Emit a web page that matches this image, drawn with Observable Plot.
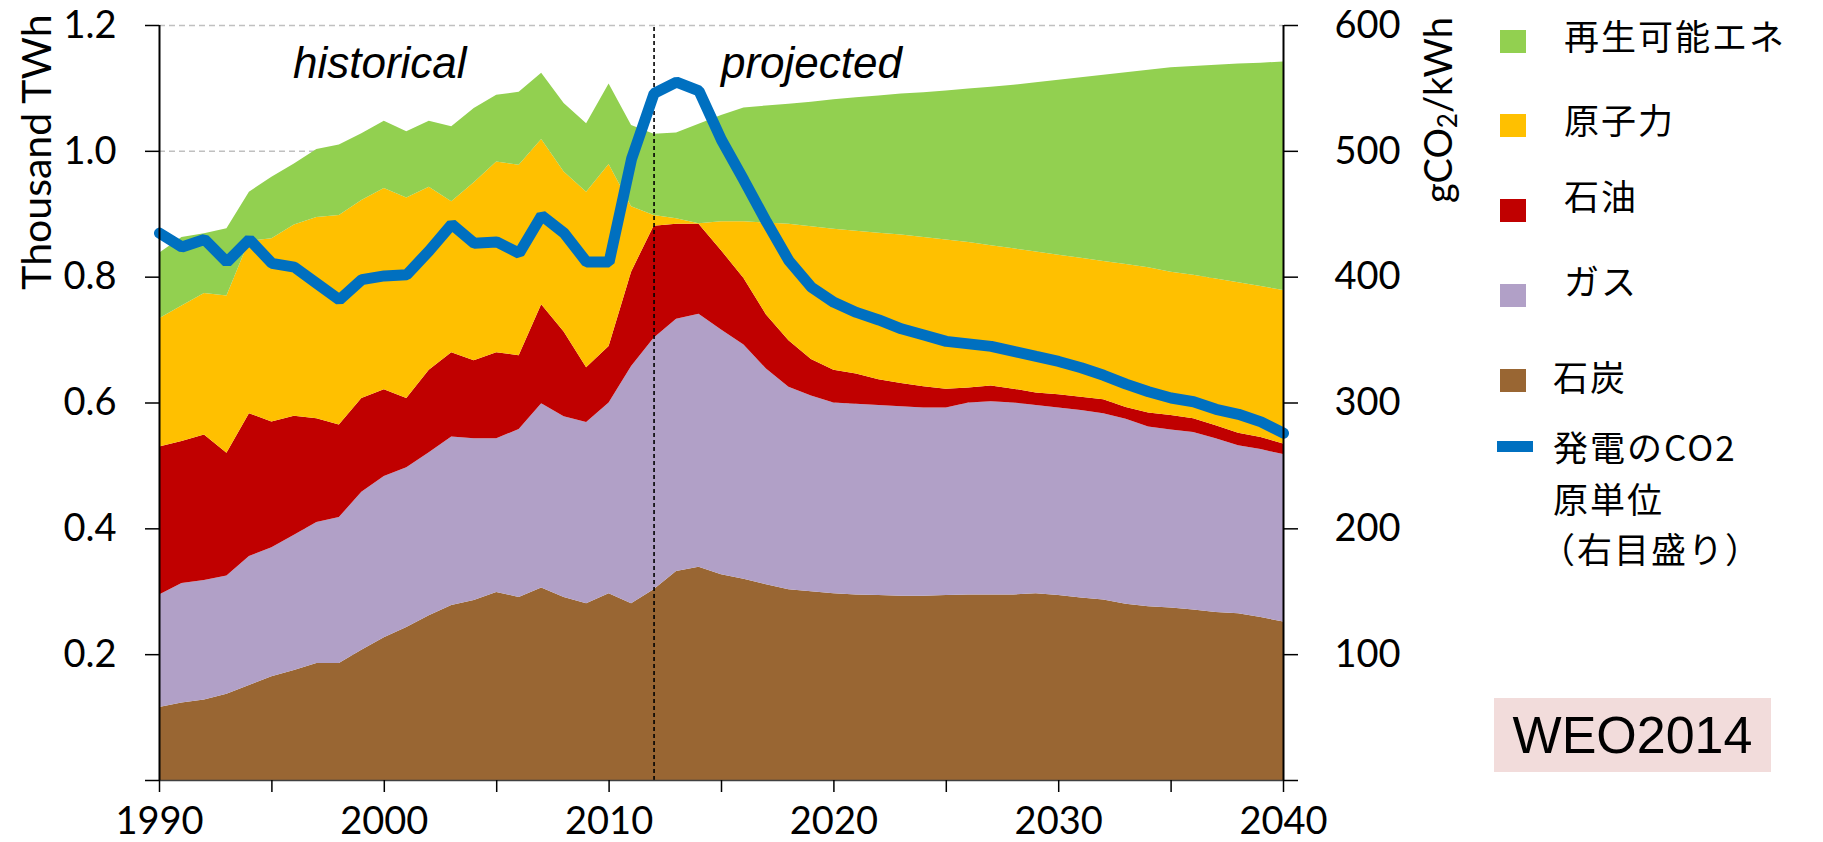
<!DOCTYPE html>
<html><head><meta charset="utf-8">
<script src="https://cdn.jsdelivr.net/npm/d3@7"></script>
<script src="https://cdn.jsdelivr.net/npm/@observablehq/plot@0.6"></script>
<style>
body{margin:0;background:#fff;}
#wrap{position:relative;width:1823px;height:842px;overflow:hidden;}
.lt{position:absolute;font-family:"Noto Sans CJK JP";font-size:35px;line-height:36px;letter-spacing:2px;color:#000;white-space:nowrap;}
.sw{position:absolute;width:26px;height:23px;}
#weo{position:absolute;left:1494px;top:698px;width:277px;height:74px;background:#f2dcdb;font-family:"Liberation Sans";font-size:52px;line-height:74px;text-align:center;color:#000;}
</style></head><body><div id="wrap"></div>
<script>
const years = d3.range(1990, 2041);
const seriesNames = ["石炭", "ガス", "石油", "原子力", "再生可能エネ"];
const seriesColors = ["#996633", "#b1a0c7", "#c00000", "#ffc000", "#92d050"];
const coal = [.116,.123,.128,.137,.151,.165,.175,.186,.186,.207,
 .227,.243,.262,.278,.286,.299,.291,.306,.291,.281,
 .297,.281,.303,.332,.339,.327,.320,.311,.303,.300,
 .297,.295,.294,.293,.293,.294,.295,.295,.295,.297,
 .294,.290,.287,.280,.276,.274,.271,.267,.265,.259,.252];
const gas = [.179,.190,.190,.188,.205,.205,.215,.224,.232,.251,
 .256,.254,.259,.268,.257,.244,.267,.293,.287,.288,
 .303,.377,.400,.401,.402,.389,.372,.343,.322,.311,
 .303,.303,.302,.301,.299,.298,.305,.307,.305,.299,
 .298,.298,.296,.294,.286,.283,.282,.276,.267,.267,.266];
const oil = [.235,.226,.231,.195,.227,.200,.189,.165,.147,.149,
 .138,.110,.131,.134,.124,.137,.117,.157,.135,.087,
 .090,.150,.178,.151,.143,.126,.106,.086,.074,.058,
 .052,.048,.041,.037,.034,.030,.024,.025,.022,.020,
 .021,.021,.022,.019,.022,.023,.022,.021,.020,.019,.017];
const nuclear = [.204,.215,.225,.250,.274,.291,.304,.320,.333,.315,
 .320,.319,.291,.240,.283,.303,.303,.263,.254,.279,
 .289,.104,.017,.009,.001,.046,.090,.146,.185,.211,
 .224,.227,.233,.236,.237,.237,.231,.223,.223,.224,
 .222,.221,.220,.227,.231,.228,.228,.233,.239,.240,.244];
const renewables = [.104,.109,.095,.107,.078,.098,.097,.108,.112,.106,
 .107,.105,.105,.119,.118,.106,.116,.105,.109,.109,
 .128,.129,.129,.136,.158,.169,.181,.186,.191,.198,
 .206,.212,.218,.224,.230,.237,.244,.252,.260,.269,
 .278,.287,.296,.305,.314,.325,.332,.340,.348,.355,.363];
const co2 = [435,424,430,412,430,411,408,395,382,398,
 401,402,421,442,427,428,419,449,435,412,
 412,494,546,555,548,509,477,444,413,392,
 380,372,366,359,354,349,347,345,341,337,
 333,328,322,315,309,304,301,295,291,285,276];
const leftTicks = [0, 0.2, 0.4, 0.6, 0.8, 1.0, 1.2];
const rightTicks = [0, 100, 200, 300, 400, 500, 600];
const xTicks = [1990,1995,2000,2005,2010,2015,2020,2025,2030,2035,2040];
const annotations = [{year: 1999.8, y: 1.139, label: "historical"}, {year: 2019.0, y: 1.139, label: "projected"}];
const divideYear = 2012;
const rightMax = 600, leftMax = 1.2;

const layers = [coal, gas, oil, nuclear, renewables];
const rows = [];
years.forEach((yr, i) => layers.forEach((arr, k) => rows.push({year: yr, type: seriesNames[k], value: arr[i]})));
const ratio = rightMax / leftMax;
const co2rows = years.map((yr, i) => ({year: yr, v: co2[i] / ratio}));

const plot = Plot.plot({
  width: 1823, height: 842,
  marginLeft: 159, marginRight: 540, marginTop: 25, marginBottom: 62,
  x: {domain: [1990, 2040]},
  y: {domain: [0, leftMax]},
  color: {domain: seriesNames, range: seriesColors},
  style: {fontFamily: "Lato", color: "#000", background: "transparent", overflow: "visible"},
  marks: [
    Plot.ruleY(leftTicks.filter(d => d > 0), {stroke: "#c0c0c0", strokeDasharray: "6,4", strokeWidth: 1.5}),
    Plot.areaY(rows, {x: "year", y: "value", z: "type", fill: "type"}),
    Plot.ruleX([divideYear], {y1: 0, y2: leftMax, stroke: "#000", strokeWidth: 1.6, strokeDasharray: "4,3"}),
    Plot.line(co2rows, {x: "year", y: "v", stroke: "#0070c0", strokeWidth: 11, strokeLinejoin: "miter"}),
    Plot.ruleY([0], {stroke: "#404040", strokeWidth: 1.5}),
    Plot.ruleX([1990, 2040], {y1: 0, y2: leftMax, stroke: "#000", strokeWidth: 2}),
    Plot.axisY({ticks: leftTicks, tickSize: 14, tickPadding: 29, strokeWidth: 1.5, fontSize: 38,
      tickFormat: d => d === 0 ? "" : d.toFixed(1), label: null}),
    Plot.axisY({anchor: "right", ticks: rightTicks.map(d => d / ratio), tickSize: 14, tickPadding: 37, strokeWidth: 1.5, fontSize: 38,
      tickFormat: d => { const v = Math.round(d * ratio); return v === 0 ? "" : String(v); }, label: null}),
    Plot.axisX({ticks: xTicks, tickSize: 12, tickPadding: 15, strokeWidth: 1.5, fontSize: 38,
      tickFormat: d => d % 10 === 0 ? String(d) : "", label: null}),
    Plot.text(annotations, {x: "year", y: "y", text: "label", fontSize: 44, fontStyle: "italic", fontFamily: "Liberation Sans", fill: "#000"})
  ]
});
const wrap = document.getElementById("wrap");
wrap.appendChild(plot);
const svg = d3.select(plot);
svg.append("text").attr("transform", "translate(41,152) rotate(-90)")
  .attr("text-anchor", "middle").attr("dominant-baseline", "middle")
  .attr("font-family", "Lato").attr("font-size", 41).attr("fill", "#000").text("Thousand TWh");
const rl = svg.append("text").attr("transform", "translate(1442,110) rotate(-90)")
  .attr("text-anchor", "middle").attr("dominant-baseline", "middle")
  .attr("font-family", "Lato").attr("font-size", 38).attr("fill", "#000");
rl.append("tspan").text("gCO");
rl.append("tspan").attr("font-size", 26).attr("dy", 8).text("2");
rl.append("tspan").attr("dy", -8).text("/kWh");

// legend
const legendItems = [
  {name: "再生可能エネ", color: "#92d050", sy: 30, ty: 17, tx: 1564},
  {name: "原子力", color: "#ffc000", sy: 114, ty: 101, tx: 1564},
  {name: "石油", color: "#c00000", sy: 199, ty: 177, tx: 1564},
  {name: "ガス", color: "#b1a0c7", sy: 284, ty: 262, tx: 1564},
  {name: "石炭", color: "#996633", sy: 369, ty: 358, tx: 1553}
];
legendItems.forEach(it => {
  const s = document.createElement("div"); s.className = "sw";
  s.style.left = "1500px"; s.style.top = it.sy + "px"; s.style.background = it.color; wrap.appendChild(s);
  const t = document.createElement("div"); t.className = "lt";
  t.style.left = it.tx + "px"; t.style.top = it.ty + "px"; t.textContent = it.name; wrap.appendChild(t);
});
const bl = document.createElement("div"); bl.className = "sw";
bl.style.left = "1497px"; bl.style.top = "441px"; bl.style.width = "36px"; bl.style.height = "11px"; bl.style.background = "#0070c0";
wrap.appendChild(bl);
[["発電のCO2", 428], ["原単位", 480], ["（右目盛り）", 530]].forEach(([txt, top], i) => {
  const t = document.createElement("div"); t.className = "lt";
  t.style.left = (i === 2 ? 1540 : 1553) + "px"; t.style.top = top + "px"; t.textContent = txt; wrap.appendChild(t);
});
const weo = document.createElement("div"); weo.id = "weo"; weo.textContent = "WEO2014"; wrap.appendChild(weo);
</script>
</body></html>
